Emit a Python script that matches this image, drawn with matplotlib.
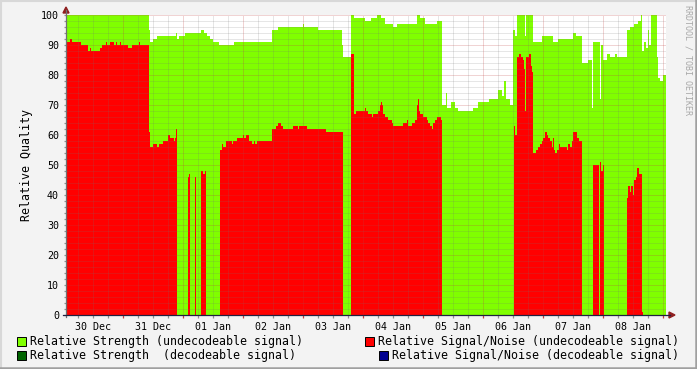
import numpy as np
import matplotlib
matplotlib.use("Agg")
import matplotlib.pyplot as plt
from matplotlib.lines import Line2D
from matplotlib.patches import Polygon, Rectangle
from matplotlib.transforms import IdentityTransform

# ---------------- data (hours since 30 Dec 00:00, step values) ----------------
strength_t = [1.2, 34.4, 34.8, 36.0, 37.6, 45.2, 45.6, 46.4, 48.8, 55.2, 56.4, 57.6,
              58.8, 60.0, 62.4, 68.4, 83.6, 86.0, 96.0, 96.4, 102.0, 111.6, 112.0,
              115.2, 116.4, 120.8, 123.2, 125.6, 127.2, 128.8, 132.0, 133.6, 141.6,
              142.8, 144.8, 149.6, 151.5, 153.2, 153.6, 155.2, 156.8, 158.0, 164.0,
              166.0, 170.4, 174.0, 175.6, 176.4, 177.2, 178.8, 180.0, 180.8, 181.6,
              184.8, 185.2, 188.0, 191.6, 196.0, 198.0, 204.0, 205.2, 207.6, 210.0,
              211.6, 212.0, 214.8, 215.2, 216.0, 217.6, 218.8, 220.8, 221.6, 225.6,
              226.8, 228.4, 230.0, 231.2, 231.6, 232.4, 233.2, 234.0, 234.4, 235.2,
              237.6, 238.0, 238.8, 240.0]
strength_v = [100, 95, 91, 92, 93, 94, 92, 93, 94, 95, 94, 93,
              92, 91, 90, 91, 95, 96, 97, 96, 95, 90, 86,
              100, 99, 98, 99, 100, 99, 97, 96, 97, 100,
              99, 97, 98, 70, 74, 69, 71, 69, 68, 69,
              71, 72, 75, 73, 78, 72, 70, 95, 93, 100,
              93, 100, 91, 93, 91, 92, 94, 93, 84, 85,
              69, 91, 72, 90, 85, 87, 86, 87, 86, 95,
              96, 97, 98, 100, 88, 91, 89, 95, 90, 100,
              86, 79, 78, 80]

snr_t = [1.2, 2.8, 3.6, 7.2, 10.0, 10.8, 11.2, 14.8, 15.6, 17.2, 17.6, 18.8, 20.4,
         21.2, 21.6, 22.8, 23.2, 26.0, 27.6, 30.4, 30.8, 34.4, 34.8, 36.0, 37.6,
         38.4, 40.0, 42.0, 42.8, 44.4, 44.8, 45.2, 45.6, 50.0, 50.4, 50.8, 52.8,
         53.2, 55.2, 56.0, 56.8, 57.2, 62.8, 63.6, 64.0, 65.2, 67.6, 68.0, 69.6,
         72.0, 72.4, 73.2, 74.4, 75.6, 76.4, 76.8, 77.6, 83.6, 85.2, 86.0, 87.2,
         88.0, 92.0, 94.0, 94.4, 97.6, 105.2, 111.9, 115.2, 116.4, 117.2, 120.8,
         121.2, 122.0, 123.6, 124.0, 126.0, 126.8, 127.2, 127.6, 128.0, 128.8,
         130.0, 131.6, 132.0, 136.0, 137.6, 138.0, 139.6, 140.8, 141.6, 142.0,
         142.4, 142.8, 144.0, 145.6, 146.0, 146.8, 147.6, 148.0, 148.8, 149.6,
         151.2, 151.5, 180.4, 180.8, 181.6, 182.4, 183.2, 184.0, 184.4, 184.8,
         185.2, 186.4, 187.2, 187.6, 188.0, 189.2, 190.0, 190.8, 191.6, 192.0,
         192.8, 193.6, 194.0, 194.8, 195.6, 196.0, 196.4, 196.8, 197.6, 198.4,
         198.8, 201.6, 202.0, 202.8, 203.6, 204.0, 205.6, 206.4, 207.6, 212.0,
         214.4, 214.6, 215.2, 216.0, 216.4, 225.6, 226.0, 226.8, 227.2, 228.0,
         228.4, 229.2, 229.6, 230.4, 231.6, 232.0]
snr_v = [91, 92, 91, 90, 88, 89, 88, 89, 90, 91, 90, 91, 90,
         91, 90, 91, 90, 89, 90, 91, 90, 61, 56, 57, 56,
         57, 58, 60, 59, 58, 59, 62, 0, 46, 47, 0, 46,
         0, 48, 47, 48, 0, 55, 57, 56, 58, 57, 58, 59,
         60, 59, 60, 58, 57, 58, 57, 58, 62, 63, 64, 63,
         62, 63, 62, 63, 62, 61, 0, 87, 67, 68, 69,
         68, 67, 66, 67, 68, 70, 71, 70, 67, 66,
         65, 64, 63, 64, 65, 63, 64, 65, 70, 72,
         68, 67, 66, 65, 64, 63, 62, 64, 65, 66,
         65, 0, 63, 60, 86, 87, 86, 85, 82, 68,
         86, 87, 83, 81, 54, 55, 56, 57, 58, 59,
         61, 60, 59, 58, 56, 59, 55, 54, 55, 57,
         56, 55, 57, 56, 58, 61, 59, 58, 0, 50,
         0, 51, 48, 50, 0, 39, 43, 41, 43, 40,
         45, 46, 49, 47, 1, 0]

t_start, t_end = 1.2, 241.2
day_labels = ['30 Dec', '31 Dec', '01 Jan', '02 Jan', '03 Jan',
              '04 Jan', '05 Jan', '06 Jan', '07 Jan', '08 Jan']
legend_labels = ['Relative Strength (undecodeable signal)',
                 'Relative Strength  (decodeable signal)',
                 'Relative Signal/Noise (undecodeable signal)',
                 'Relative Signal/Noise (decodeable signal)']
legend_colors = ['#80FF00', '#006400', '#FF0000', '#000090']

# ---------------- figure ----------------
W, H = 697, 369
plt.rcParams['font.family'] = ['DejaVu Sans Mono']
fig = plt.figure(figsize=(W / 100, H / 100), dpi=100, facecolor='#F3F3F3')
ax = fig.add_axes([66 / W, 54 / H, 600 / W, 300 / H])
ax.set_facecolor('white')
for s in ax.spines.values():
    s.set_visible(False)


def step_fill(t, v, color, z):
    tt = np.append(np.asarray(t, float), t_end)
    vv = np.append(np.asarray(v, float), v[-1])
    ax.fill_between(tt, 0, vv, step='post', color=color, lw=0, zorder=z)


step_fill(strength_t, strength_v, '#80FF00', 1)
step_fill(snr_t, snr_v, '#FF0000', 2)

# grid (drawn over data, rrdtool style)
minor_c = (0.45, 0.45, 0.45, 0.35)
major_c = (0.75, 0.25, 0.25, 0.45)
dot = (0, (1, 1))
for y in range(2, 101, 2):
    ax.hlines(y, t_start, t_end, colors=major_c if y % 10 == 0 else minor_c,
              linestyles=dot, lw=0.72, zorder=3)
for t in range(6, 241, 6):
    ax.vlines(t, 0, 100, colors=major_c if t % 24 == 0 else minor_c,
              linestyles=dot, lw=0.72, zorder=3)

# ticks / labels
ax.set_xticks([12 + 24 * i for i in range(len(day_labels))])
ax.set_xticklabels(day_labels)
ax.set_yticks(range(0, 101, 10))
ax.tick_params(axis='both', length=0, labelsize=7.2, colors='black')
ax.tick_params(axis='x', pad=5)
ax.tick_params(axis='y', pad=5)
for t in range(6, 241, 6):
    c = '#C04040' if t % 24 == 0 else '#909090'
    ax.vlines(t, -0.9, 0, colors=c, lw=0.9, clip_on=False, zorder=4)
for y in range(0, 101, 2):
    ax.hlines(y, t_start - 0.8, t_start, colors='#909090', lw=0.9, clip_on=False, zorder=4)

ax.set_ylabel('Relative Quality', fontsize=8.4, labelpad=6)
ax.set_xlim(t_start, t_end)
ax.set_ylim(0, 100)

# axes lines and arrows in pixel coords
I = IdentityTransform()


def px(x, y):
    return (x, H - y)


fig.add_artist(Line2D([66, 66], [H - 317, H - 10], color='#707070', lw=0.9, transform=I))
fig.add_artist(Line2D([63, 670], [H - 315, H - 315], color='#202040', lw=0.9, transform=I))
fig.add_artist(Polygon([px(63, 13), px(69, 13), px(66, 7)], closed=True,
                       color='#902020', transform=I))
fig.add_artist(Polygon([px(669, 312), px(669, 318), px(675, 315)], closed=True,
                       color='#902020', transform=I))

# legend
rows = [(21, 341, 0), (21, 355, 1), (369, 341, 2), (383, 355, 3)]
for cx, cy, i in rows:
    fig.add_artist(Rectangle(px(cx - 4.5, cy + 4.5), 9, 9, facecolor=legend_colors[i],
                             edgecolor='black', lw=0.7, transform=I))
    fig.text((cx + 9) / W, 1 - cy / H, legend_labels[i], fontsize=8.4,
             ha='left', va='center', color='black')

# watermark
fig.text(688 / W, 1 - 5 / H, 'RRDTOOL / TOBI OETIKER', rotation=270, fontsize=6,
         ha='center', va='top', color='#A8A8A8')

# 3D frame
fig.add_artist(Line2D([0.5, 696.5], [H - 0.5, H - 0.5], color='#D8D8D8', lw=1.5, transform=I))
fig.add_artist(Line2D([0.5, 0.5], [0, H], color='#D8D8D8', lw=1.5, transform=I))
fig.add_artist(Line2D([0, W], [1, 1], color='#A0A0A0', lw=1.8, transform=I))
fig.add_artist(Line2D([W - 1, W - 1], [0, H], color='#A0A0A0', lw=1.8, transform=I))

fig.savefig('out.png', dpi=100, facecolor=fig.get_facecolor())
